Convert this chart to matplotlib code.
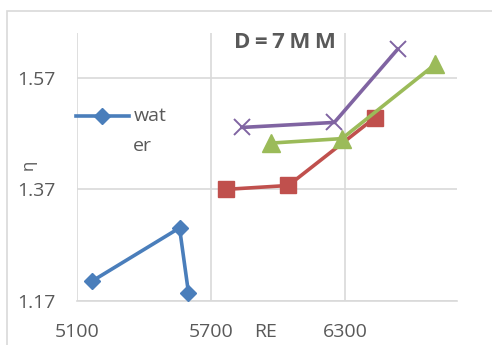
"""Viscosity ratio vs RE for D=7MM, Excel-style line chart."""

import matplotlib

matplotlib.use("Agg")
import matplotlib.pyplot as plt
from matplotlib.patches import Rectangle

plt.rcParams["font.family"] = ["Open Sans", "DejaVu Sans"]

# series
water_x = [5170, 5560, 5600]
water_y = [1.206, 1.301, 1.185]
red_x = [5767, 6047, 6433]
red_y = [1.370, 1.377, 1.498]
green_x = [5970, 6287, 6704]
green_y = [1.453, 1.461, 1.594]
purple_x = [5839, 6253, 6536]
purple_y = [1.481, 1.490, 1.621]

x_ticks = [5100, 5700, 6300]
y_ticks = [1.17, 1.37, 1.57]

GRID = "#D9D9D9"
TEXT = "#595959"

fig = plt.figure(figsize=(4.92, 3.45), dpi=100)
ax = fig.add_axes([0.156, 0.1275, 0.772, 0.7765])

# outer chart frame (cropped at right / bottom)
fig.patches.append(Rectangle((7 / 492, -0.1), 1.2, 1 - 11 / 345 + 0.1,
                             transform=fig.transFigure, fill=False,
                             edgecolor=GRID, lw=1.2))

ax.plot(water_x, water_y, color="#4A7EBB", lw=2.6, marker="D", ms=8.5, zorder=3)
ax.plot(red_x, red_y, color="#C0504D", lw=2.6, marker="s", ms=12, zorder=3)
ax.plot(green_x, green_y, color="#9BBB59", lw=2.6, marker="^", ms=13, zorder=3)
ax.plot(purple_x, purple_y, color="#8064A2", lw=2.6, marker="x", ms=12,
        mew=1.4, zorder=3)

ax.set_xlim(5100, 6800)
ax.set_ylim(1.17, 1.65)
ax.set_xticks(x_ticks)
ax.set_yticks(y_ticks)
ax.set_xticklabels([str(v) for v in x_ticks])
ax.set_yticklabels([f"{v:.2f}" for v in y_ticks])
ax.grid(True, color=GRID, lw=1.2)
ax.set_axisbelow(True)
for side in ("top", "right", "left"):
    ax.spines[side].set_visible(False)
ax.spines["bottom"].set_color(GRID)
ax.spines["bottom"].set_linewidth(1.2)
ax.tick_params(length=0, labelsize=14, labelcolor=TEXT)
ax.tick_params(axis="x", pad=16)
ax.tick_params(axis="y", pad=15)

ax.text(0.548, 0.966, "D\u2009=\u20097\u2009M\u2009M", transform=ax.transAxes,
        ha="center", va="center", fontsize=16, fontweight="bold", color=TEXT)
ax.text(0.498, -0.1157, "RE", transform=ax.transAxes, ha="center",
        va="center", fontsize=14, color=TEXT)
ax.text(-0.1255, 0.507, "η", transform=ax.transAxes, ha="center",
        va="center", fontsize=12, color=TEXT, rotation=90)

# legend drawn by hand, label wrapped as in the original
ax.plot([-0.0026, 0.138], [0.69, 0.69], transform=ax.transAxes,
        color="#4A7EBB", lw=2.6, clip_on=False)
ax.plot([0.0655], [0.69], transform=ax.transAxes, color="#4A7EBB",
        marker="D", ms=8.5, clip_on=False)
ax.text(0.149, 0.69, "wat", transform=ax.transAxes, ha="left", va="center",
        fontsize=14, color=TEXT)
ax.text(0.149, 0.578, "er", transform=ax.transAxes, ha="left", va="center",
        fontsize=14, color=TEXT)

fig.savefig("out.png", dpi=100)
